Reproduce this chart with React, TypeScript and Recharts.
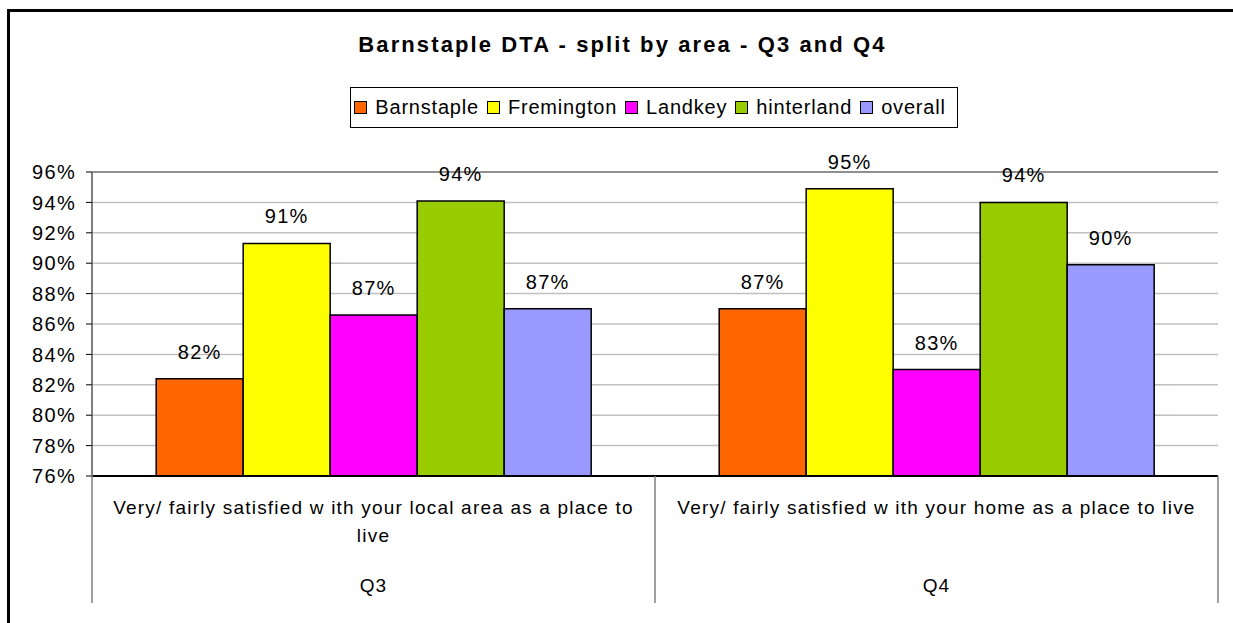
import { BarChart, Bar, XAxis, YAxis, CartesianGrid, LabelList, ReferenceLine } from "recharts";

// categories and their two-level axis labels
const categories = ["Q3", "Q4"];
const categoryLines = [
  ["Very/ fairly satisfied w ith your local area as a place to", "live"],
  ["Very/ fairly satisfied w ith your home as a place to live"],
];

// series values (percent)
const barnstaple = [82.4, 87.0];
const fremington = [91.3, 94.9];
const landkey = [86.6, 83.0];
const hinterland = [94.1, 94.0];
const overall = [87.0, 89.9];

const yTicks = [76, 78, 80, 82, 84, 86, 88, 90, 92, 94, 96];

const series = [
  { key: "Barnstaple", values: barnstaple, color: "#FF6600" },
  { key: "Fremington", values: fremington, color: "#FFFF00" },
  { key: "Landkey", values: landkey, color: "#FF00FF" },
  { key: "hinterland", values: hinterland, color: "#99CC00" },
  { key: "overall", values: overall, color: "#9999FF" },
];

const data = categories.map((cat, i) => {
  const row: { [k: string]: string | number } = { cat };
  series.forEach((s) => (row[s.key] = s.values[i]));
  return row;
});

const FONT = "'Liberation Sans', Arial, sans-serif";
const W = 1233;
const H = 623;
const M = { top: 172, right: 15, bottom: 20, left: 0 };
const Y_WIDTH = 92;
const X_HEIGHT = 127;
const plotWidth = W - M.left - M.right - Y_WIDTH;

// two-level category tick with divider lines
const CategoryTick = (props: any) => {
  const { x, y, payload, index } = props;
  const i = payload.index ?? index;
  const half = plotWidth / categories.length / 2;
  const lines = categoryLines[i] || [];
  const top = y - 8;
  return (
    <g>
      <line x1={x - half} y1={top} x2={x - half} y2={top + X_HEIGHT} stroke="#808080" strokeWidth={1.5} />
      {i === categories.length - 1 && (
        <line x1={x + half} y1={top} x2={x + half} y2={top + X_HEIGHT} stroke="#808080" strokeWidth={1.5} />
      )}
      {lines.map((l: string, k: number) => (
        <text
          key={k}
          x={x}
          y={top + 38 + k * 28}
          textAnchor="middle"
          fontSize={19}
          letterSpacing={1.2}
          fill="#000"
          fontFamily={FONT}
        >
          {l}
        </text>
      ))}
      <text x={x} y={top + 116} textAnchor="middle" fontSize={19} letterSpacing={1.2} fill="#000" fontFamily={FONT}>
        {payload.value}
      </text>
    </g>
  );
};

export default function App() {
  return (
    <div style={{ position: "absolute", left: 0, top: 0, width: W, height: H, overflow: "hidden", background: "#fff", fontFamily: FONT }}>
      <div
        style={{
          position: "absolute",
          left: 7,
          top: 9,
          width: W + 20,
          height: H + 20,
          borderLeft: "3px solid #000",
          borderTop: "3px solid #000",
          boxSizing: "border-box",
        }}
      />
      <div
        style={{
          position: "absolute",
          left: 0,
          width: W,
          top: 30,
          textAlign: "center",
          fontWeight: "bold",
          fontSize: 22,
          letterSpacing: 2.1,
          lineHeight: "30px",
          paddingLeft: 12,
          boxSizing: "border-box",
        }}
      >
        Barnstaple DTA - split by area - Q3 and Q4
      </div>
      <div
        style={{
          position: "absolute",
          left: 350,
          top: 87,
          width: 608,
          height: 41,
          border: "1px solid #000",
          boxSizing: "border-box",
          display: "flex",
          alignItems: "center",
          justifyContent: "center",
          fontSize: 20,
          letterSpacing: 0.8,
        }}
      >
        {series.map((s) => (
          <span key={s.key} style={{ display: "inline-flex", alignItems: "center", marginRight: 8 }}>
            <span
              style={{
                display: "inline-block",
                width: 11,
                height: 11,
                background: s.color,
                border: "1.5px solid #000",
                marginRight: 8,
              }}
            />
            {s.key}
          </span>
        ))}
      </div>
      <div style={{ position: "absolute", left: 0, top: 0 }}>
        <BarChart width={W} height={H} data={data} margin={M} barCategoryGap="11.4%" barGap={0}>
          <CartesianGrid vertical={false} stroke="#c0c0c0" strokeWidth={1.5} />
          <XAxis
            dataKey="cat"
            height={X_HEIGHT}
            tick={<CategoryTick />}
            tickLine={false}
            axisLine={{ stroke: "#000", strokeWidth: 2 }}
            interval={0}
          />
          <YAxis
            width={Y_WIDTH}
            domain={[76, 96]}
            ticks={yTicks}
            allowDataOverflow
            tickFormatter={(v) => `${v}%`}
            tick={{ fontSize: 20, fill: "#000", fontFamily: FONT, letterSpacing: 1.3 }}
            tickSize={6}
            tickMargin={10}
            tickLine={{ stroke: "#000" }}
            axisLine={{ stroke: "#808080", strokeWidth: 2 }}
          />
          <YAxis yAxisId="right" orientation="right" width={0} tick={false} tickLine={false} axisLine={{ stroke: "#909090", strokeWidth: 2.5 }} />
          <ReferenceLine y={96} stroke="#909090" strokeWidth={2} />
          {series.map((s) => (
            <Bar key={s.key} dataKey={s.key} fill={s.color} stroke="#000" strokeWidth={1.5} isAnimationActive={false}>
              <LabelList
                dataKey={s.key}
                position="top"
                offset={20}
                formatter={(v: any) => `${Math.round(Number(v))}%`}
                style={{ fontSize: 20, fill: "#000", fontFamily: FONT, letterSpacing: 1.3 }}
              />
            </Bar>
          ))}
        </BarChart>
      </div>
    </div>
  );
}
